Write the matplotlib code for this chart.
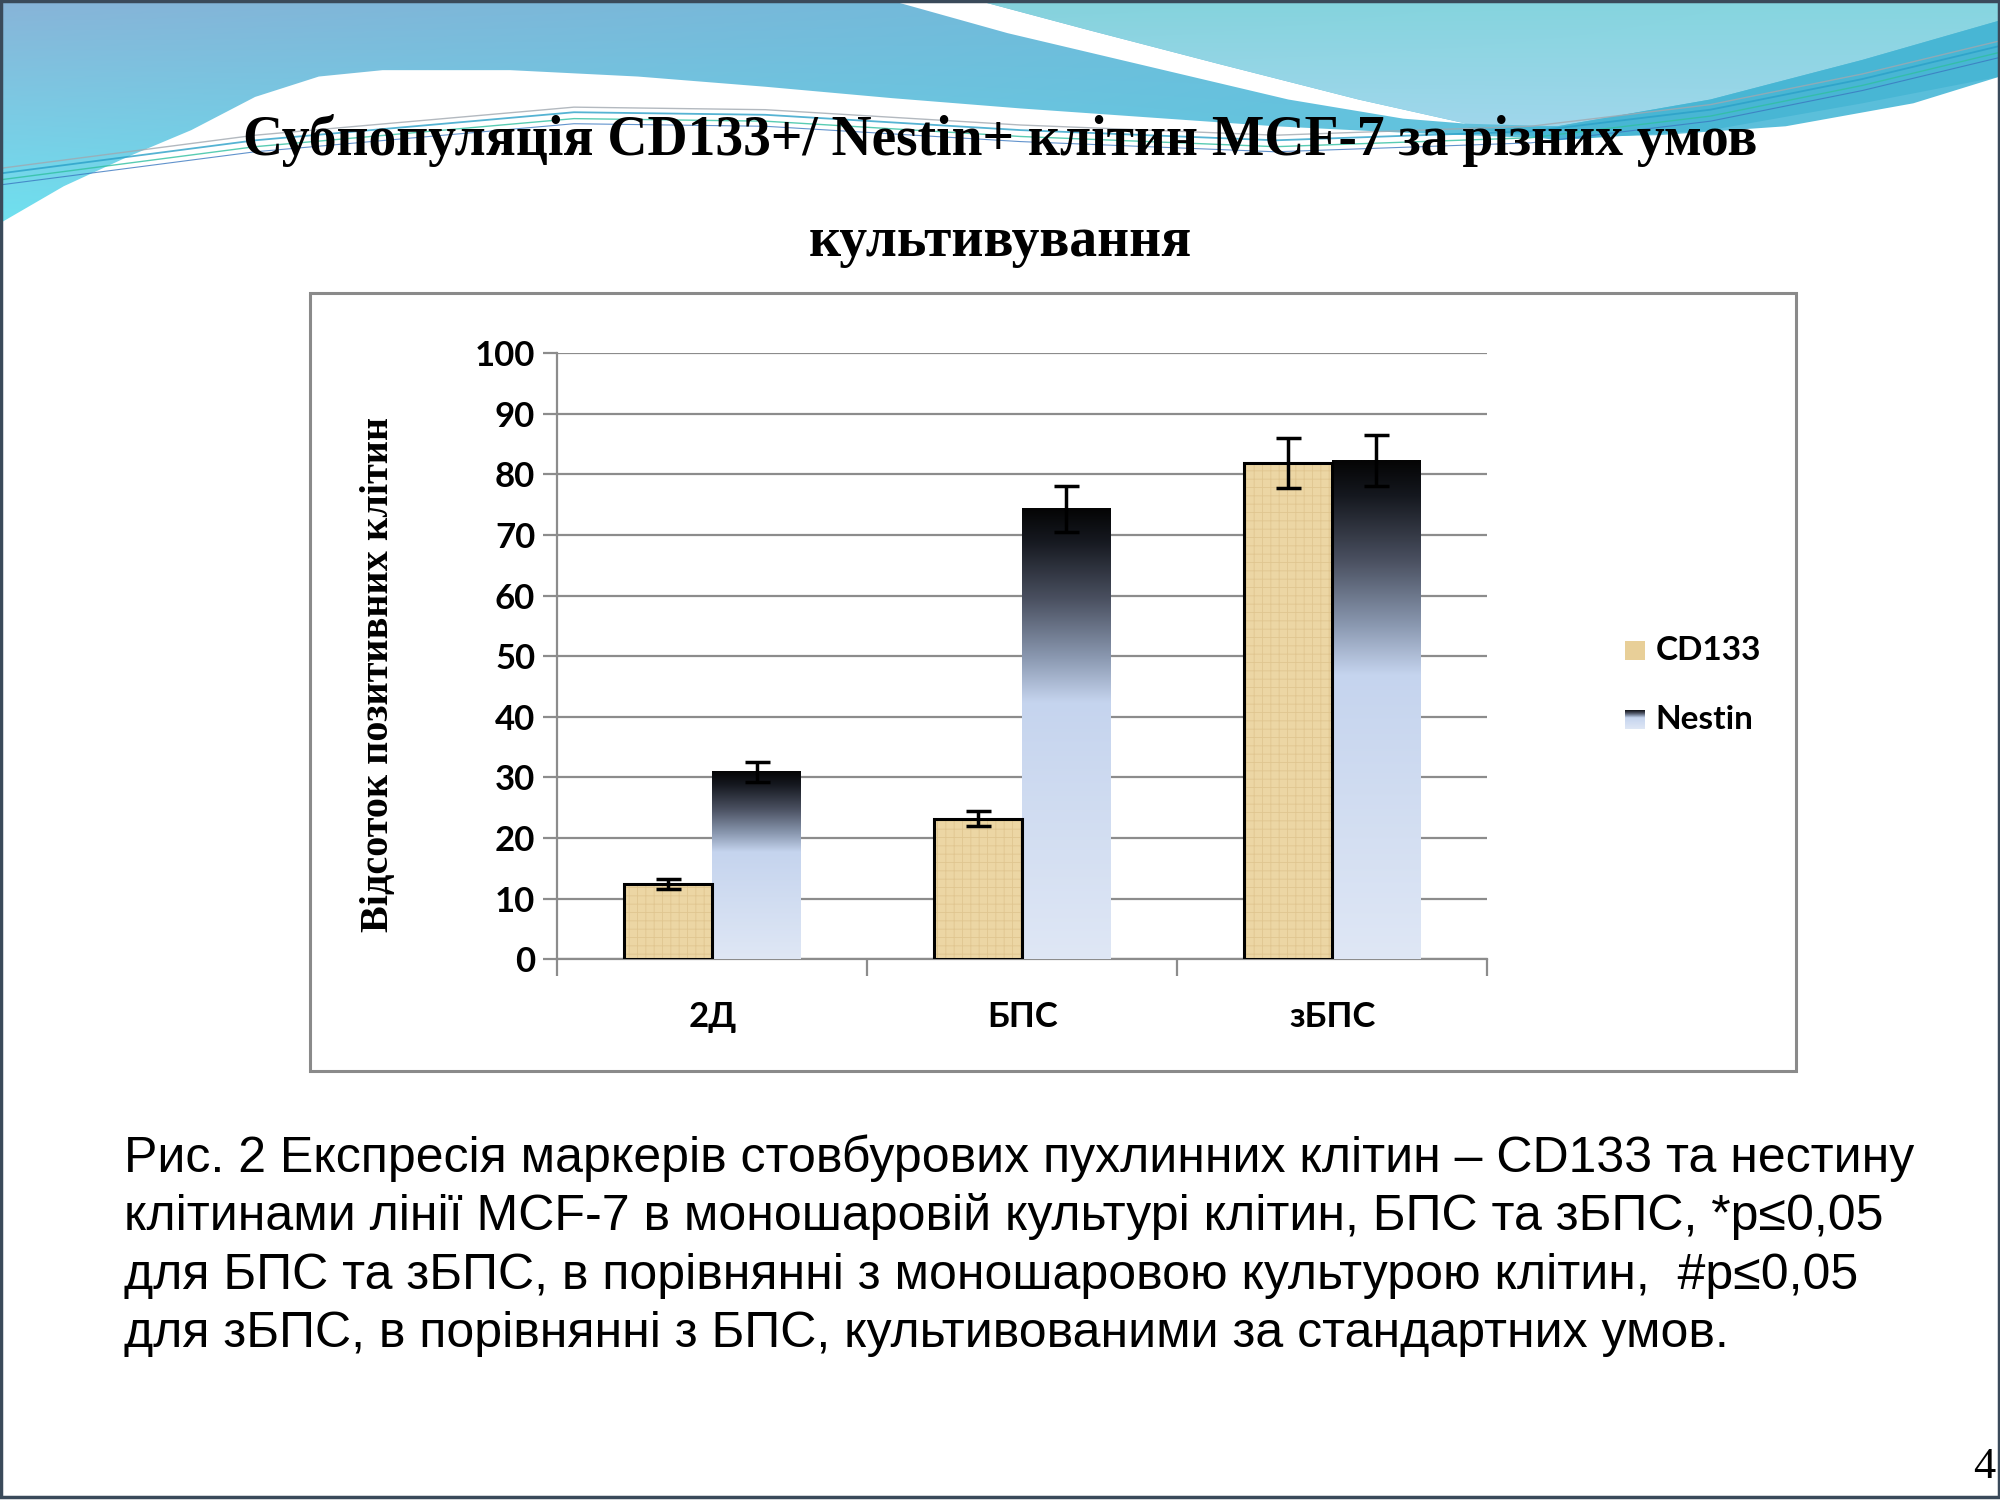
import matplotlib
matplotlib.use("Agg")
import matplotlib.pyplot as plt
import numpy as np
from matplotlib.patches import Polygon, Rectangle
from matplotlib.colors import LinearSegmentedColormap, to_rgb

# дані з рисунка
categories = ['2Д', 'БПС', 'зБПС']
cd133 = [12.4, 23.2, 81.9]
cd133_err = [0.8, 1.25, 4.1]
nestin = [30.9, 74.3, 82.3]
nestin_err = [1.7, 3.8, 4.2]
series_names = ['CD133', 'Nestin']

title_lines = ['Субпопуляція CD133+/ Nestin+ клітин MCF-7 за різних умов', 'культивування']
ylabel = 'Відсоток позитивних клітин'
caption = ['Рис. 2 Експресія маркерів стовбурових пухлинних клітин – CD133 та нестину',
           'клітинами лінії MCF-7 в моношаровій культурі клітин, БПС та зБПС, *p≤0,05',
           'для БПС та зБПС, в порівнянні з моношаровою культурою клітин,  #p≤0,05',
           'для зБПС, в порівнянні з БПС, культивованими за стандартних умов.']

W, H = 1568, 1176  # координати слайду

fig = plt.figure(figsize=(20, 15), dpi=100)
fig.patch.set_facecolor('white')

# фон слайду
bg = fig.add_axes([0, 0, 1, 1], zorder=0)
bg.set_xlim(0, W)
bg.set_ylim(H, 0)
bg.axis('off')


def grad_img(tl, tr, bl, br, ny=60, nx=120):
    u = np.linspace(0, 1, nx)[None, :, None]
    v = np.linspace(0, 1, ny)[:, None, None]
    tl, tr, bl, br = [np.array(to_rgb(c))[None, None, :] for c in (tl, tr, bl, br)]
    return tl * (1 - u) * (1 - v) + tr * u * (1 - v) + bl * (1 - u) * v + br * u * v


blue_pts = [(0, 0), (W, 0), (W, 60), (1500, 81), (1400, 99), (1300, 106), (1200, 108),
            (1100, 104), (1000, 99), (900, 92), (800, 85), (700, 77), (600, 68), (500, 60),
            (400, 55), (300, 55), (250, 60), (200, 76), (150, 102), (100, 123), (50, 146), (0, 175)]
blue = Polygon(blue_pts, closed=True, facecolor='none', edgecolor='none')
bg.add_patch(blue)
im = bg.imshow(grad_img('#88b4d8', '#5cc0dc', '#6ee2f0', '#55bcd8'), extent=[0, W, 180, 0],
               interpolation='bilinear', aspect='auto', zorder=1)
im.set_clip_path(blue)

streak = [(697, 0), (765, 0), (855, 24), (955, 50), (1065, 78), (1150, 97), (1100, 93),
          (1010, 78), (900, 52), (790, 26)]
bg.add_patch(Polygon(streak, closed=True, facecolor='white', edgecolor='none', zorder=2))

light_pts = [(765, 0), (W, 0), (W, 16), (1460, 47), (1341, 78), (1221, 99), (1150, 97),
             (1065, 78), (955, 50), (855, 24)]
light = Polygon(light_pts, closed=True, facecolor='none', edgecolor='none')
bg.add_patch(light)
im2 = bg.imshow(grad_img('#84d2dc', '#86d6e0', '#a4d8ee', '#9ed6ea', ny=30, nx=60),
                extent=[760, W, 105, 0], interpolation='bilinear', aspect='auto', zorder=3)
im2.set_clip_path(light)

teal = [(W, 16), (1460, 47), (1341, 78), (1221, 99), (1150, 100), (1221, 110),
        (1341, 102), (1460, 81), (W, 60)]
bg.add_patch(Polygon(teal, closed=True, facecolor='#48b6d4', edgecolor='none', zorder=4))

# тонкі лінії хвилі
wave_x = [0, 200, 450, 600, 800, 1000, 1200, 1341, 1460, W]
wave_y = [136, 110, 88, 90, 102, 110, 103, 86, 62, 36]
for dy, col, lw in [(0, '#2aa0c8', 1.3), (5, '#30c0a0', 1.0), (-4, '#a0a8b0', 1.0), (9, '#3a78c0', 0.8)]:
    bg.plot(wave_x, [y + dy for y in wave_y], color=col, lw=lw, zorder=5, alpha=0.8)

# рамка слайду
bg.add_patch(Rectangle((1, 1), W - 2, H - 3, facecolor='none', edgecolor='#3a4a5a', lw=2.5, zorder=6))

# рамка діаграми
bg.add_patch(Rectangle((243, 230), 1165, 610, facecolor='white', edgecolor='#8a8a8a', lw=2.2, zorder=7))

# заголовок
fig.text(0.5, 1 - 110 / H, title_lines[0], ha='center', va='center', fontsize=40,
         fontweight='bold', family='Liberation Serif', zorder=10)
fig.text(0.5, 1 - 190 / H, title_lines[1], ha='center', va='center', fontsize=40,
         fontweight='bold', family='Liberation Serif', zorder=10)

# діаграма
ax = fig.add_axes([437 / W, 1 - 752 / H, (1166 - 437) / W, (752 - 277) / H], zorder=8)
ax.set_facecolor('none')
x = np.arange(len(categories))
bw = 0.285

plt.rcParams['hatch.linewidth'] = 0.6
ax.bar(x - bw / 2, cd133, bw, color='#ecd6a4', edgecolor='#e0c690', linewidth=0, hatch='++', zorder=3)
ax.bar(x - bw / 2, cd133, bw, fill=False, edgecolor='black', linewidth=2.2, zorder=4)

nest_bars = ax.bar(x + bw / 2, nestin, bw, color='none', linewidth=0, zorder=3)
ncmap = LinearSegmentedColormap.from_list('nest', [
    (0.0, '#dfe7f5'), (0.57, '#c5d4ee'), (0.67, '#8a98b0'), (0.8, '#4a5060'),
    (0.93, '#15181f'), (1.0, '#050505')])
grad = np.linspace(0, 1, 256)[:, None]
for b in nest_bars:
    ax.imshow(grad, extent=[b.get_x(), b.get_x() + b.get_width(), 0, b.get_height()],
              origin='lower', aspect='auto', cmap=ncmap, zorder=3, interpolation='bilinear')

ax.errorbar(x - bw / 2, cd133, yerr=cd133_err, fmt='none', ecolor='black', elinewidth=2.5,
            capsize=9, capthick=2.5, zorder=5)
ax.errorbar(x + bw / 2, nestin, yerr=nestin_err, fmt='none', ecolor='black', elinewidth=2.5,
            capsize=9, capthick=2.5, zorder=5)

ax.set_xlim(-0.5, 2.5)
ax.set_ylim(0, 100)
ax.set_yticks(np.arange(0, 101, 10))
ax.yaxis.grid(True, color='#8c8c8c', lw=1.6)
ax.set_axisbelow(True)
for s in ['top', 'right']:
    ax.spines[s].set_visible(False)
for s in ['left', 'bottom']:
    ax.spines[s].set_color('#8c8c8c')
    ax.spines[s].set_linewidth(1.6)
ax.set_xticks([-0.5, 0.5, 1.5, 2.5])
ax.set_xticklabels([])
ax.set_xticks(x, minor=True)
ax.set_xticklabels(categories, minor=True)
ax.tick_params(axis='x', which='major', length=12, width=1.6, color='#8c8c8c', direction='out')
ax.tick_params(axis='x', which='minor', length=0, pad=30)
ax.tick_params(axis='y', length=10, width=1.6, color='#8c8c8c', pad=6)
for lab in ax.get_yticklabels() + ax.get_xticklabels(minor=True):
    lab.set_family('Lato')
    lab.set_fontweight('bold')
    lab.set_fontsize(25)

fig.text(297 / W, 1 - 529 / H, ylabel, rotation=90, ha='center', va='center', fontsize=29,
         fontweight='bold', family='Liberation Serif', zorder=10)

# легенда
sw = 15
for i, (name, yy) in enumerate(zip(series_names, [510, 564])):
    lax = fig.add_axes([1274 / W, 1 - (yy + sw / 2) / H, sw / W, sw / H], zorder=9)
    lax.axis('off')
    if i == 0:
        lax.imshow([[to_rgb('#e8cf98')]], aspect='auto')
    else:
        lax.imshow(grad, origin='lower', aspect='auto', cmap=ncmap, interpolation='bilinear')
    fig.text(1298 / W, 1 - yy / H, name, ha='left', va='center', fontsize=24,
             fontweight='bold', family='Lato', zorder=10)

# підпис
for i, line in enumerate(caption):
    fig.text(97 / W, 1 - (908 + 46 * i) / H, line, ha='left', va='center', fontsize=36,
             family='Liberation Sans', zorder=10)

fig.text(1547 / W, 1 - 1150 / H, '4', ha='left', va='center', fontsize=32,
         family='Liberation Serif', zorder=10)

fig.savefig('out.png', dpi=100)
